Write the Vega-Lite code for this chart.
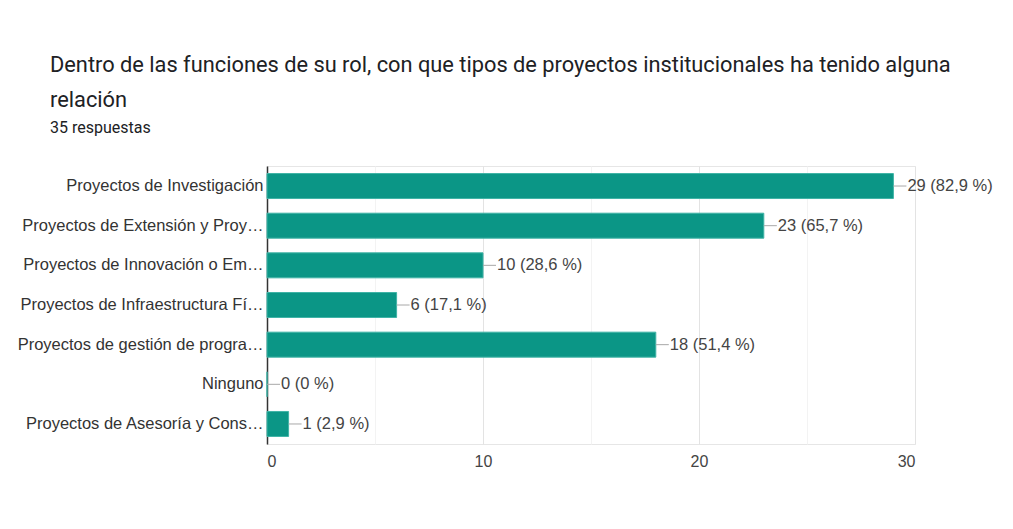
{
  "$schema": "https://vega.github.io/schema/vega-lite/v6.json",
  "autosize": {"type": "none"},
  "width": 648,
  "height": 278,
  "padding": {"left": 267, "top": 166, "right": 98, "bottom": 85},
  "background": "white",
  "title": {
    "text": ["Dentro de las funciones de su rol, con que tipos de proyectos institucionales ha tenido alguna", "relación"],
    "subtitle": "35 respuestas",
    "anchor": "start",
    "frame": "group",
    "dx": -217,
    "offset": 30,
    "font": "Roboto",
    "fontSize": 21.8,
    "fontWeight": "normal",
    "color": "#202124",
    "lineHeight": 35,
    "subtitleFont": "Roboto",
    "subtitleFontSize": 16,
    "subtitleColor": "#202124",
    "subtitlePadding": 8
  },
  "data": {
    "values": [
      {"categoria": "Proyectos de Investigación", "n": 29, "label": "29 (82,9 %)"},
      {"categoria": "Proyectos de Extensión y Proyección Social", "n": 23, "label": "23 (65,7 %)"},
      {"categoria": "Proyectos de Innovación o Emprendimiento", "n": 10, "label": "10 (28,6 %)"},
      {"categoria": "Proyectos de Infraestructura Física", "n": 6, "label": "6 (17,1 %)"},
      {"categoria": "Proyectos de gestión de programas académicos", "n": 18, "label": "18 (51,4 %)"},
      {"categoria": "Ninguno", "n": 0, "label": "0 (0 %)"},
      {"categoria": "Proyectos de Asesoría y Consultoría", "n": 1, "label": "1 (2,9 %)"}
    ]
  },
  "config": {
    "view": {"stroke": "#e6e6e6"},
    "font": "Liberation Sans"
  },
  "encoding": {
    "y": {
      "field": "categoria",
      "type": "nominal",
      "sort": null,
      "scale": {"paddingInner": 0.37, "paddingOuter": 0.19},
      "axis": {
        "title": null,
        "ticks": false,
        "grid": false,
        "domainColor": "#333333",
        "domainWidth": 1.5,
        "labelFont": "Liberation Sans",
        "labelFontSize": 16.5,
        "labelColor": "#333333",
        "labelPadding": 4,
        "labelLimit": 247
      }
    }
  },
  "layer": [
    {
      "mark": {"type": "bar", "color": "#0b9686", "stroke": "#3fb3a6", "strokeWidth": 1},
      "encoding": {
        "x": {
          "field": "n",
          "type": "quantitative",
          "scale": {"domain": [0, 30], "nice": false},
          "axis": {
            "title": null,
            "values": [0, 5, 10, 15, 20, 25, 30],
            "labelExpr": "datum.value % 10 === 0 ? datum.label : ''",
            "domain": false,
            "ticks": false,
            "gridColor": {"condition": {"test": "datum.value % 10 === 0", "value": "#e3e3e3"}, "value": "#f3f3f3"},
            "labelFont": "Liberation Sans",
            "labelFontSize": 16,
            "labelColor": "#444444",
            "labelPadding": 9
          }
        }
      }
    },
    {
      "mark": {"type": "rule", "color": "#a8a8a8", "strokeWidth": 1, "x2Offset": 13},
      "encoding": {
        "x": {"field": "n", "type": "quantitative"},
        "x2": {"field": "n"}
      }
    },
    {
      "mark": {"type": "text", "align": "left", "dx": 14, "fontSize": 16.5, "color": "#444444", "font": "Liberation Sans"},
      "encoding": {
        "x": {"field": "n", "type": "quantitative"},
        "text": {"field": "label"}
      }
    }
  ]
}
